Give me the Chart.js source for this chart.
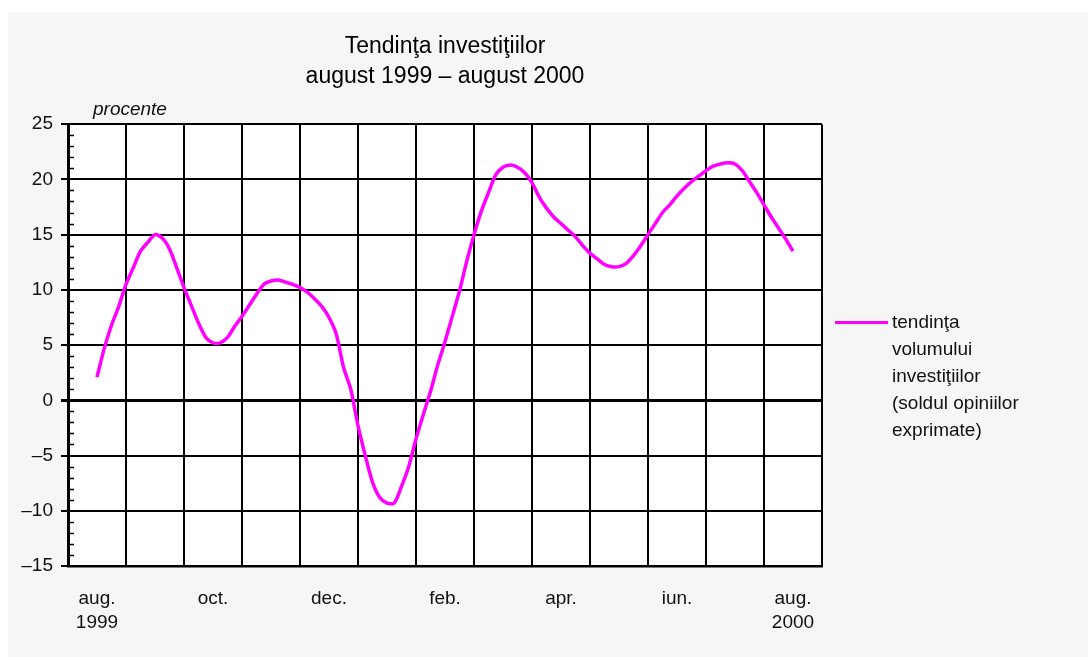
<!DOCTYPE html>
<html>
<head>
<meta charset="utf-8">
<script src="https://cdn.jsdelivr.net/npm/chart.js@4.4.1/dist/chart.umd.min.js"></script>
<style>
  html, body { margin: 0; padding: 0; background: #ffffff; }
  body { width: 1088px; height: 657px; position: relative; overflow: hidden;
         font-family: "Liberation Sans", Arial, sans-serif; color: #111; }
  #panel { position: absolute; left: 8px; top: 12px; width: 1080px; height: 645px; background: #f6f6f6; }
  #chart { position: absolute; left: 0; top: 0; }
  #unit { position: absolute; left: 93px; top: 99px; font-size: 19px; line-height: 19px; font-style: italic; }
  #legend { position: absolute; left: 835px; top: 308px; }
  #legend .swatch { position: absolute; left: 0; top: 13px; width: 53px; height: 3px; background: #ff00ff; }
  #legend .text { position: absolute; left: 57px; top: 0; width: 190px; font-size: 19px; line-height: 27px; }
</style>
</head>
<body>
<div id="panel"></div>
<canvas id="chart" width="1088" height="657"></canvas>
<div id="unit">procente</div>
<div id="legend">
  <div class="swatch"></div>
  <div class="text">tendinţa<br>volumului<br>investiţiilor<br>(soldul opiniilor<br>exprimate)</div>
</div>
<script>
// luni (poziţie pe axă, 0 = aug. 1999 ... 12 = aug. 2000), eşantionare săptămânală
const monthPos = [
  0, 0.125, 0.25, 0.375, 0.5, 0.625, 0.75, 0.875,
  1, 1.125, 1.25, 1.375, 1.5, 1.625, 1.75, 1.875,
  2, 2.125, 2.25, 2.375, 2.5, 2.625, 2.75, 2.875,
  3, 3.125, 3.25, 3.375, 3.5, 3.625, 3.75, 3.875,
  4, 4.125, 4.25, 4.375, 4.5, 4.625, 4.75, 4.875,
  5, 5.125, 5.25, 5.375, 5.5, 5.625, 5.75, 5.875,
  6, 6.125, 6.25, 6.375, 6.5, 6.625, 6.75, 6.875,
  7, 7.125, 7.25, 7.375, 7.5, 7.625, 7.75, 7.875,
  8, 8.125, 8.25, 8.375, 8.5, 8.625, 8.75, 8.875,
  9, 9.125, 9.25, 9.375, 9.5, 9.625, 9.75, 9.875,
  10, 10.125, 10.25, 10.375, 10.5, 10.625, 10.75, 10.875,
  11, 11.125, 11.25, 11.375, 11.5, 11.625, 11.75, 11.875,
  12
];

// tendinţa volumului investiţiilor (soldul opiniilor exprimate), procente
const tendinta = [
  2.1, 4.7, 6.8, 8.5, 10.5, 12.0, 13.5, 14.3,
  15.0, 14.7, 13.7, 12.0, 10.2, 8.6, 7.0, 5.7,
  5.2, 5.2, 5.7, 6.7, 7.6, 8.6, 9.6, 10.5,
  10.8, 10.9, 10.7, 10.5, 10.2, 9.8, 9.2, 8.5,
  7.5, 6.0, 3.0, 1.0, -2.3, -5.0, -7.4, -8.8,
  -9.3, -9.3, -7.8, -6.0, -3.5, -1.3, 0.8, 3.2,
  5.3, 7.6, 9.9, 12.6, 15.0, 17.1, 18.8, 20.4,
  21.1, 21.3, 21.1, 20.6, 19.7, 18.4, 17.4, 16.6,
  16.0, 15.4, 14.8, 14.0, 13.3, 12.8, 12.3, 12.1,
  12.1, 12.4, 13.1, 14.0, 15.0, 16.0, 17.0, 17.7,
  18.5, 19.2, 19.8, 20.3, 20.8, 21.2, 21.4, 21.5,
  21.4, 20.8, 19.8, 18.8, 17.7, 16.6, 15.6, 14.6,
  13.5
];

// etichete axa X (doar lunile pare)
const tickLabels = {
  0: ['aug.', '1999'],
  2: 'oct.',
  4: 'dec.',
  6: 'feb.',
  8: 'apr.',
  10: 'iun.',
  12: ['aug.', '2000']
};

const titleLines = ['Tendinţa investiţiilor', 'august 1999 \u2013 august 2000'];

const FONT = "'Liberation Sans', Arial, sans-serif";

// fundal alb pentru zona graficului + liniuţe mici pe axa Y
const plotDecor = {
  id: 'plotDecor',
  beforeDraw(chart) {
    const { ctx, chartArea: a } = chart;
    ctx.save();
    ctx.fillStyle = '#ffffff';
    ctx.fillRect(a.left, a.top, a.right - a.left, a.bottom - a.top);
    ctx.restore();
  },
  afterDraw(chart) {
    const { ctx, chartArea: a } = chart;
    const y = chart.scales.y;
    ctx.save();
    ctx.strokeStyle = '#000';
    ctx.lineWidth = 1.5;
    for (let v = -15; v <= 25; v++) {
      if (v % 5 === 0) continue;
      const py = Math.round(y.getPixelForValue(v)) + 0.5;
      ctx.beginPath();
      ctx.moveTo(a.left, py);
      ctx.lineTo(a.left + 6, py);
      ctx.stroke();
    }
    ctx.restore();
  }
};

new Chart(document.getElementById('chart'), {
  type: 'line',
  data: {
    datasets: [{
      label: 'tendinţa volumului investiţiilor (soldul opiniilor exprimate)',
      data: monthPos.map((m, i) => ({ x: m, y: tendinta[i] })),
      borderColor: '#ff00ff',
      borderWidth: 3.5,
      pointRadius: 0,
      tension: 0.25,
      fill: false
    }]
  },
  options: {
    responsive: false,
    animation: false,
    layout: { padding: { left: 0, right: 266, top: 0, bottom: 0 } },
    plugins: {
      legend: { display: false },
      tooltip: { enabled: false },
      title: {
        display: true,
        text: titleLines,
        color: '#000',
        font: { family: FONT, size: 23, weight: 'normal', lineHeight: 1.33 },
        padding: { top: 31, bottom: 32 },
        fullSize: false
      }
    },
    scales: {
      x: {
        type: 'linear',
        min: -0.5,
        max: 12.5,
        afterFit: s => { s.height = 91; },
        ticks: {
          stepSize: 0.5,
          autoSkip: false,
          maxRotation: 0,
          includeBounds: true,
          padding: 20,
          color: '#111',
          font: { family: FONT, size: 19, lineHeight: 1.3 },
          callback: v => tickLabels[v] !== undefined ? tickLabels[v] : ''
        },
        afterBuildTicks: s => {
          s.ticks = [];
          for (let i = 0; i <= 26; i++) s.ticks.push({ value: -0.5 + i * 0.5 });
        },
        grid: {
          drawTicks: false,
          color: c => (c.tick && Math.abs(c.tick.value % 1) === 0.5) ? '#000' : 'rgba(0,0,0,0)',
          lineWidth: 2
        },
        border: { display: true, color: '#000', width: 2.5 }
      },
      y: {
        min: -15,
        max: 25,
        afterFit: s => { s.width = 68; },
        ticks: {
          stepSize: 5,
          padding: 8,
          color: '#111',
          font: { family: FONT, size: 19 },
          callback: v => v < 0 ? '\u2013' + Math.abs(v) : String(v)
        },
        grid: {
          color: '#000',
          tickColor: '#000',
          tickLength: 7,
          lineWidth: c => (c.tick && c.tick.value === 0) ? 3 : 2
        },
        border: { display: true, color: '#000', width: 3 }
      }
    }
  },
  plugins: [plotDecor]
});
</script>
</body>
</html>
